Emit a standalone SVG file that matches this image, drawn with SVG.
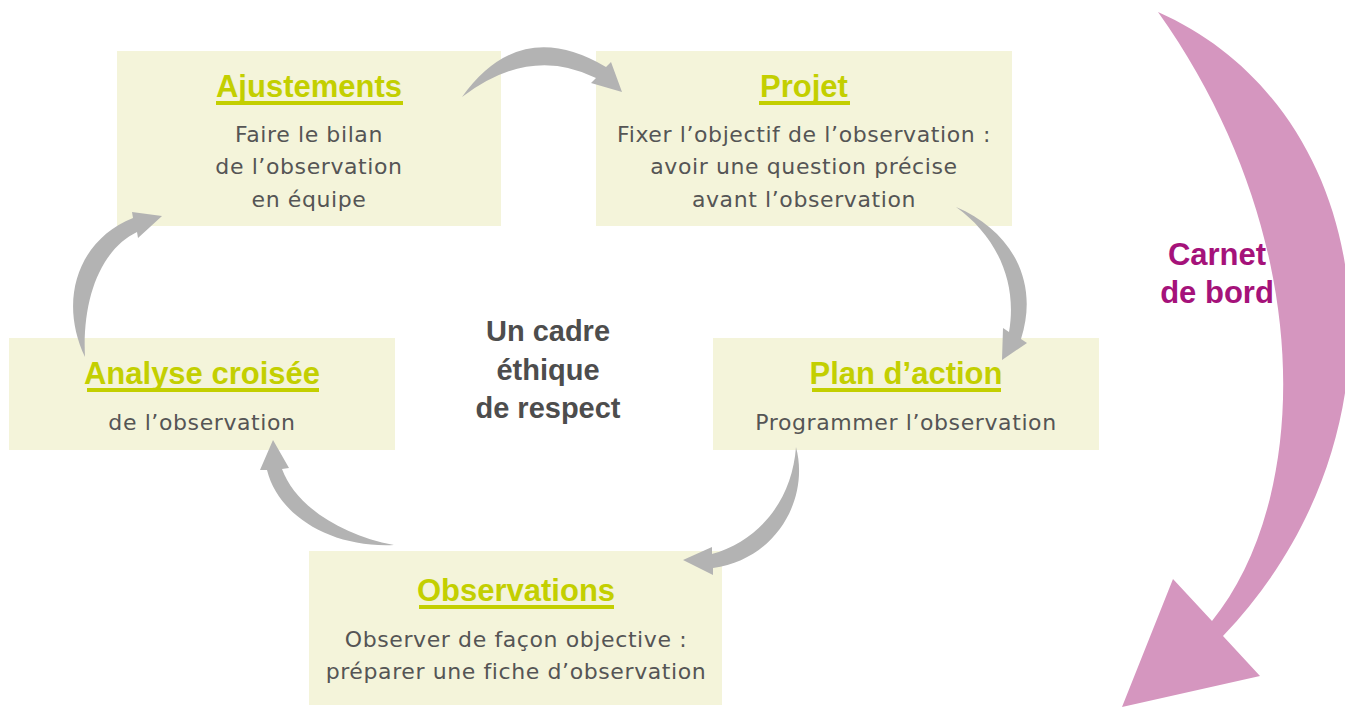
<svg xmlns="http://www.w3.org/2000/svg" width="1345" height="707" viewBox="0 0 1345 707">
<style>
.box{fill:#f4f4da}
.title{font-family:"Liberation Sans",Arial,sans-serif;font-weight:bold;font-size:31px;fill:#c3cf00;text-anchor:middle}
.ul{fill:#c3cf00}
.body{font-family:"DejaVu Sans",sans-serif;font-size:22px;letter-spacing:0.6px;fill:#555555;text-anchor:middle}
.center{font-family:"Liberation Sans",Arial,sans-serif;font-weight:bold;font-size:29px;fill:#4d4d4d;text-anchor:middle}
.pinktxt{font-family:"Liberation Sans",Arial,sans-serif;font-weight:bold;font-size:31px;fill:#a5127a;text-anchor:middle}
.garrow{fill:#b3b3b3}
.parrow{fill:#d596bf}
</style>
<rect width="1345" height="707" fill="#ffffff"/>
<g id="carnet">
<path class="parrow" d="M1158,12 C1380,110 1420,430 1223,636 L1260,676 L1122,707 L1173,579 L1212,621 C1310,500 1320,240 1158,12 Z"/>
<text class="pinktxt" x="1217" y="265">Carnet</text>
<text class="pinktxt" x="1217" y="303">de bord</text>
</g>
<g id="ajustements">
<rect class="box" x="117" y="51" width="384" height="175"/>
<text class="title" x="309" y="97">Ajustements</text>
<rect class="ul" x="216" y="101" width="187" height="4"/>
<text class="body" x="309" y="142">Faire le bilan</text>
<text class="body" x="309" y="174">de l’observation</text>
<text class="body" x="309" y="207">en équipe</text>
</g>
<g id="projet">
<rect class="box" x="596" y="51" width="416" height="175"/>
<text class="title" x="804" y="97">Projet</text>
<rect class="ul" x="759" y="101" width="91" height="4"/>
<text class="body" x="804" y="142">Fixer l’objectif de l’observation :</text>
<text class="body" x="804" y="174">avoir une question précise</text>
<text class="body" x="804" y="207">avant l’observation</text>
</g>
<g id="plan">
<rect class="box" x="713" y="338" width="386" height="112"/>
<text class="title" x="906" y="384">Plan d’action</text>
<rect class="ul" x="812" y="388" width="189" height="4"/>
<text class="body" x="906" y="430">Programmer l’observation</text>
</g>
<g id="analyse">
<rect class="box" x="9" y="338" width="386" height="112"/>
<text class="title" x="202" y="384">Analyse croisée</text>
<rect class="ul" x="87" y="388" width="232" height="4"/>
<text class="body" x="202" y="430">de l’observation</text>
</g>
<g id="observations">
<rect class="box" x="309" y="551" width="413" height="154"/>
<text class="title" x="516" y="601">Observations</text>
<rect class="ul" x="419" y="605" width="195" height="4"/>
<text class="body" x="516" y="647">Observer de façon objective :</text>
<text class="body" x="516" y="679">préparer une fiche d’observation</text>
</g>
<g id="cadre">
<text class="center" x="548" y="341">Un cadre</text>
<text class="center" x="548" y="380">éthique</text>
<text class="center" x="548" y="418">de respect</text>
</g>
<g id="connectors">
<path class="garrow" d="M462,97 Q520,16 606,67 L611,62 L622,92 L591,83 L596,78 Q530,45 462,97 Z"/>
<path class="garrow" d="M956,207 C1010,230 1040,280 1021,339 L1027,343 L1002,360 L1003,328 L1009,332 C1018,280 995,235 956,207 Z"/>
<path class="garrow" d="M796,447 C810,500 775,560 713,568 L713,575 L683,560 L712,547 L712,554 C760,540 792,500 796,447 Z"/>
<path class="garrow" d="M394,545 C330,548 278,515 267,470 L260,470 L273,440 L289,468 L282,469 C295,505 340,535 394,545 Z"/>
<path class="garrow" d="M85,357 C58,300 78,240 133,218 L132,212 L162,216 L138,238 L137,232 C100,250 82,300 85,357 Z"/>
</g>
</svg>
